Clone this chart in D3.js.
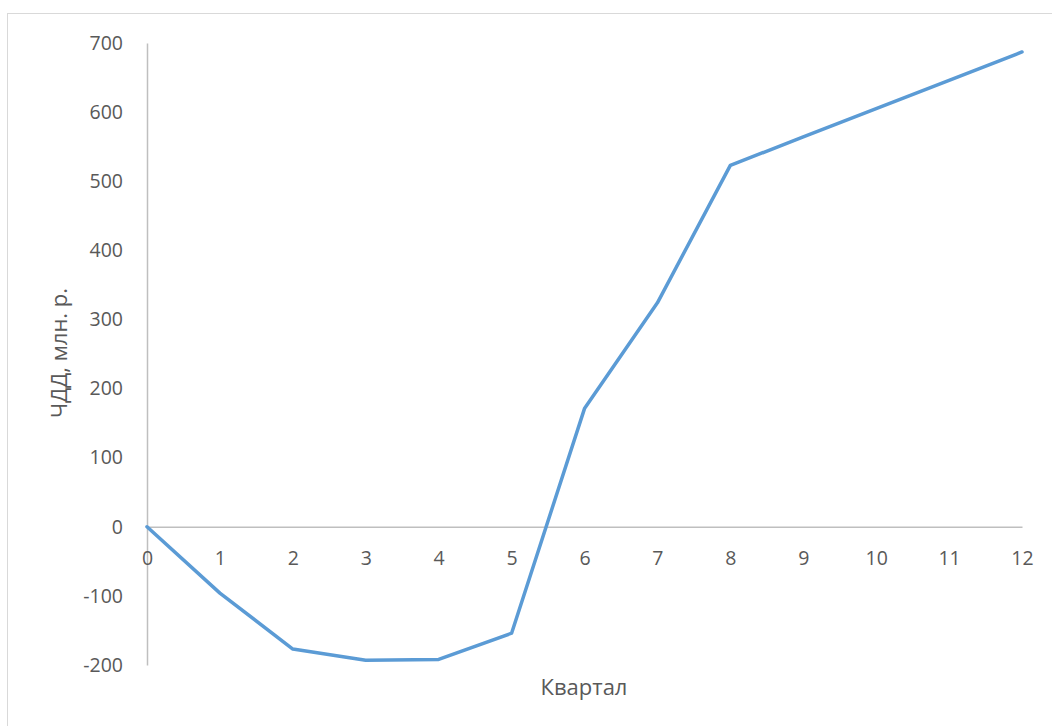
<!DOCTYPE html>
<html><head><meta charset="utf-8">
<script src="https://cdn.jsdelivr.net/npm/d3@7"></script>
<style>html,body{margin:0;padding:0;background:#fff;}svg{display:block;}</style>
</head><body>
<script>
const quarters = [0,1,2,3,4,5,6,7,8,9,10,11,12];
const npv = [0,-96,-177,-193,-192,-154,171,324,523,564,605,646,687];
const yTicks = [-200,-100,0,100,200,300,400,500,600,700];
const xTitle = "Квартал";
const yTitle = "ЧДД, млн. р.";

const W = 1052, H = 726;
const svg = d3.select("body").append("svg").attr("width", W).attr("height", H);
svg.append("rect").attr("x", 7.5).attr("y", 13.5).attr("width", W).attr("height", H)
  .attr("fill", "#fff").attr("stroke", "#D9D9D9").attr("stroke-width", 1);

const x = d3.scaleLinear().domain([0,12]).range([147,1022]);
const y = d3.scaleLinear().domain([-200,700]).range([665,43]);
const font = "'Open Sans', sans-serif";
const tc = "#595959";

// y axis
const ya = svg.append("g").attr("transform", `translate(${x(0)},0)`)
  .call(d3.axisLeft(y).tickValues(yTicks).tickSize(0).tickPadding(24).tickFormat(d => String(d)));
ya.select(".domain").attr("stroke", "#BFBFBF").attr("stroke-width", 1.5);
ya.selectAll("text").attr("font-family", font).attr("font-size", 19.5).attr("fill", tc);

// x axis along zero
const xa = svg.append("g").attr("transform", `translate(0,${y(0)})`)
  .call(d3.axisBottom(x).tickValues(quarters).tickSize(0).tickPadding(24).tickFormat(d => String(d)));
xa.select(".domain").attr("stroke", "#BFBFBF").attr("stroke-width", 1.5);
xa.selectAll("text").attr("font-family", font).attr("font-size", 19.5).attr("fill", tc);

// line
const line = d3.line().x((d,i)=>x(quarters[i])).y(d=>y(d));
svg.append("path").datum(npv).attr("d", line).attr("fill","none")
  .attr("stroke","#5B9BD5").attr("stroke-width",3.5).attr("stroke-linejoin","round").attr("stroke-linecap","round");

// titles
svg.append("text").attr("x", 584).attr("y", 695).attr("text-anchor","middle")
  .attr("font-family", font).attr("font-size", 22).attr("fill", tc).text(xTitle);
svg.append("text").attr("transform", "translate(67,353) rotate(-90)").attr("text-anchor","middle")
  .attr("font-family", font).attr("font-size", 22).attr("fill", tc).text(yTitle);
</script>
</body></html>
